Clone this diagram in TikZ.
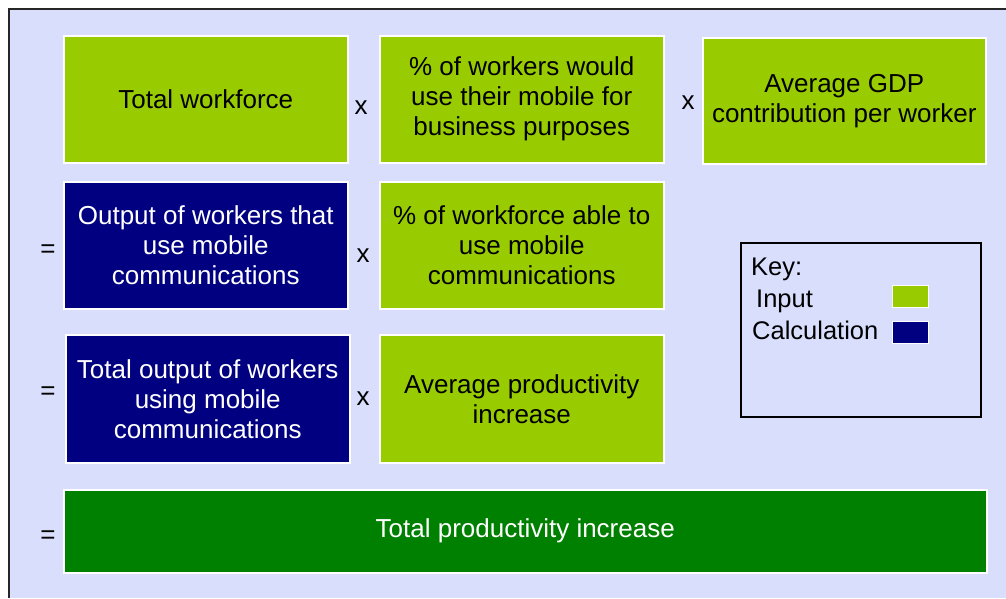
\documentclass[tikz,border=0pt]{standalone}
\usepackage{fontspec}
\setmainfont{Liberation Sans}
\definecolor{bglav}{RGB}{217,222,253}
\definecolor{inpgreen}{RGB}{153,204,0}
\definecolor{calcnavy}{RGB}{0,0,128}
\definecolor{totgreen}{RGB}{0,128,0}
\begin{document}
\begin{tikzpicture}[x=1pt,y=-1pt,
  box/.style={draw=white, line width=1.5pt, anchor=north west, align=center, inner sep=2pt,
    font=\fontsize{26}{30}\selectfont},
  inbox/.style={box, fill=inpgreen, text=black},
  calcbox/.style={box, fill=calcnavy, text=white},
  totbox/.style={box, fill=totgreen, text=white},
  op/.style={font=\fontsize{26}{28}\selectfont, text=black, inner sep=0pt},
  keytxt/.style={font=\fontsize{25.5}{28}\selectfont, anchor=base west, inner sep=0pt},
  swatch/.style={draw=white, line width=1.2pt, minimum width=36pt, minimum height=22pt, anchor=north west, inner sep=0pt}]
\useasboundingbox (0,0) rectangle (1006,598);
\fill[white] (0,0) rectangle (1006,598);
\fill[bglav] (9,9) rectangle (1006,598);
\draw[line width=2pt, black!85] (9,598) -- (9,9) -- (1006,9);
% row 1
\node[inbox, minimum width=284pt, minimum height=127pt] (tw) at (63,35) {Total workforce};
\node[inbox, minimum width=284pt, minimum height=127pt] (pw) at (379,35) {\% of workers would\\use their mobile for\\business purposes};
\node[inbox, minimum width=283pt, minimum height=126pt] (gdp) at (702,37) {Average GDP\\contribution per worker};
% row 2
\node[calcbox, minimum width=284pt, minimum height=127pt] (ow) at (63,181) {Output of workers that\\use mobile\\communications};
\node[inbox, minimum width=284pt, minimum height=127pt] (pa) at (379,181) {\% of workforce able to\\use mobile\\communications};
% row 3
\node[calcbox, minimum width=284pt, minimum height=128pt] (to) at (65,334) {Total output of workers\\using mobile\\communications};
\node[inbox, minimum width=284pt, minimum height=128pt] (ap) at (379,334) {Average productivity\\increase};
% row 4
\node[totbox, minimum width=923pt, minimum height=83pt] (tp) at (63,489) {Total productivity increase};
% operators
\node[op] (x1) at (361,108) {x};
\node[op] (x2) at (688,103) {x};
\node[op] (x3) at (363,256) {x};
\node[op] (x4) at (363,399) {x};
\node[op] (e1) at (48,251) {=};
\node[op] (e2) at (48,393) {=};
\node[op] (e3) at (48,537) {=};
% key
\node[draw=black, line width=1.5pt, minimum width=240pt, minimum height=174pt, anchor=north west, inner sep=0pt] (key) at (740,242) {};
\node[keytxt] (kk) at (751,275) {Key:};
\node[keytxt] (ki) at (756,307) {Input};
\node[keytxt] (kc) at (752,339) {Calculation};
\node[swatch, fill=inpgreen] (si) at (892,285) {};
\node[swatch, fill=calcnavy] (sc) at (892,321) {};
\end{tikzpicture}
\end{document}
